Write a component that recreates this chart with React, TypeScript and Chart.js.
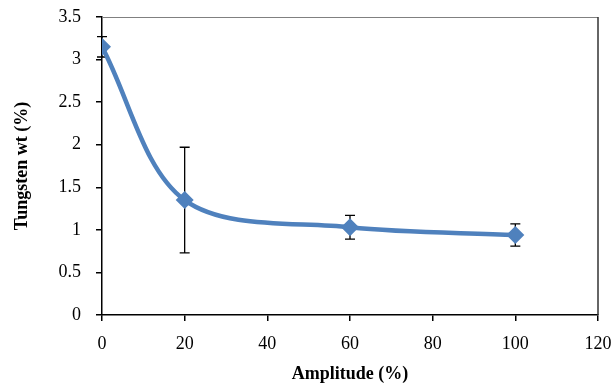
import React, { useEffect, useRef } from "react";
import { Chart, registerables } from "chart.js";

Chart.register(...registerables);

const amplitude = [0, 20, 60, 100];
const tungsten = [3.15, 1.35, 1.03, 0.94];
const errors = [0.12, 0.62, 0.14, 0.13];
const xTicks = [0, 20, 40, 60, 80, 100, 120];
const yTicks = [0, 0.5, 1, 1.5, 2, 2.5, 3, 3.5];

const errorBarPlugin = {
  id: "errorBars",
  beforeDatasetsDraw(chart: any) {
    const { ctx, scales } = chart;
    const xs = scales.x;
    const ys = scales.y;
    ctx.save();
    ctx.strokeStyle = "#000000";
    ctx.lineWidth = 1.3;
    amplitude.forEach((a, i) => {
      const px = xs.getPixelForValue(a);
      const top = ys.getPixelForValue(tungsten[i] + errors[i]);
      const bot = ys.getPixelForValue(tungsten[i] - errors[i]);
      ctx.beginPath();
      ctx.moveTo(px, top);
      ctx.lineTo(px, bot);
      ctx.moveTo(px - 5, top);
      ctx.lineTo(px + 5, top);
      ctx.moveTo(px - 5, bot);
      ctx.lineTo(px + 5, bot);
      ctx.stroke();
    });
    ctx.restore();
  },
};

const borderPlugin = {
  id: "plotBorder",
  afterDraw(chart: any) {
    const { ctx, chartArea } = chart;
    ctx.save();
    ctx.strokeStyle = "#808080";
    ctx.lineWidth = 1;
    ctx.beginPath();
    ctx.moveTo(chartArea.left, chartArea.top + 0.5);
    ctx.lineTo(chartArea.right, chartArea.top + 0.5);
    ctx.stroke();
    ctx.strokeStyle = "#333333";
    ctx.lineWidth = 1.5;
    ctx.beginPath();
    ctx.moveTo(chartArea.right, chartArea.top);
    ctx.lineTo(chartArea.right, chartArea.bottom);
    ctx.stroke();
    ctx.restore();
  },
};

export default function App() {
  const ref = useRef<HTMLCanvasElement>(null);
  useEffect(() => {
    document.body.style.margin = "0";
    const chart = new Chart(ref.current as HTMLCanvasElement, {
      type: "line",
      data: {
        datasets: [
          {
            data: amplitude.map((a, i) => ({ x: a, y: tungsten[i] })),
            borderColor: "#4F81BD",
            backgroundColor: "#4F81BD",
            borderWidth: 4.5,
            tension: 0.33,
            pointStyle: "rectRot",
            pointRadius: 9,
            pointBorderWidth: 0,
            fill: false,
          },
        ],
      },
      options: {
        animation: false,
        responsive: false,
        layout: { padding: { left: 0, top: 17, right: 15, bottom: 0 } },
        plugins: { legend: { display: false }, tooltip: { enabled: false } },
        scales: {
          x: {
            type: "linear",
            min: 0,
            max: 120,
            afterBuildTicks: (s: any) => {
              s.ticks = xTicks.map((v) => ({ value: v }));
            },
            afterFit: (s: any) => {
              s.height = 70;
              s.paddingLeft = 0;
              s.paddingRight = 0;
            },
            border: { color: "#000000", width: 1.5 },
            grid: { drawOnChartArea: false, tickLength: 6, color: "#000000", lineWidth: 1.5 },
            ticks: {
              color: "#000000",
              padding: 12,
              callback: (v: any) => String(v),
              font: { family: "'Liberation Serif'", size: 18 },
            },
            title: {
              display: true,
              text: "Amplitude (%)",
              color: "#000000",
              padding: { top: 4, bottom: 0 },
              font: { family: "'Liberation Serif'", size: 18, weight: "bold" },
            },
          },
          y: {
            type: "linear",
            min: 0,
            max: 3.5,
            afterBuildTicks: (s: any) => {
              s.ticks = yTicks.map((v) => ({ value: v }));
            },
            afterFit: (s: any) => {
              s.width = 102;
              s.paddingTop = 0;
              s.paddingBottom = 0;
            },
            border: { color: "#000000", width: 1.5 },
            grid: { drawOnChartArea: false, tickLength: 6, color: "#000000", lineWidth: 1.5 },
            ticks: {
              color: "#000000",
              padding: 15,
              callback: (v: any) => String(v),
              font: { family: "'Liberation Serif'", size: 18 },
            },
            title: {
              display: true,
              text: "Tungsten wt (%)",
              color: "#000000",
              padding: { top: 12, bottom: 0 },
              font: { family: "'Liberation Serif'", size: 18, weight: "bold" },
            },
          },
        },
      },
      plugins: [errorBarPlugin, borderPlugin],
    } as any);
    return () => chart.destroy();
  }, []);
  return (
    <div style={{ width: 613, height: 385 }}>
      <canvas ref={ref} width={613} height={385} style={{ display: "block" }} />
    </div>
  );
}
